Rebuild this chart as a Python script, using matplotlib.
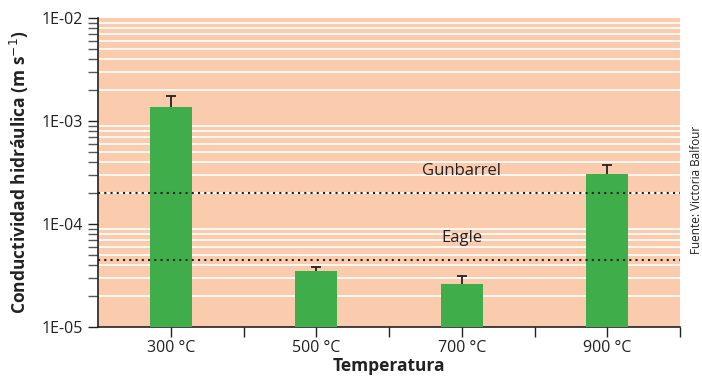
import numpy as np
import matplotlib
matplotlib.use('Agg')
import matplotlib.pyplot as plt
from matplotlib.ticker import LogLocator, FixedLocator, FuncFormatter

temps = ['300 °C', '500 °C', '700 °C', '900 °C']
conductivity = [1.37e-3, 3.5e-5, 2.62e-5, 3.05e-4]
upper_err = [1.75e-3, 3.85e-5, 3.12e-5, 3.72e-4]
ref_names = ['Gunbarrel', 'Eagle']
ref_values = [2.0e-4, 4.45e-5]

plt.rcParams['font.family'] = ['Open Sans', 'DejaVu Sans']

BG = '#fbcbae'
GREEN = '#3fae4a'


def main():
    fig = plt.figure(figsize=(7.02, 3.79), dpi=100)
    ax = fig.add_axes([98 / 702, 52 / 379, 582 / 702, 309 / 379])
    ax.set_facecolor(BG)

    x = np.arange(len(temps))
    ax.bar(x, conductivity, width=0.29, color=GREEN, zorder=3)
    # upper-only error bars
    ax.vlines(x, conductivity, upper_err, color='#222222', linewidth=1.3, zorder=4)
    ax.plot(x, upper_err, linestyle='none', marker='_', markersize=7,
            markeredgewidth=1.3, color='#222222', zorder=4)

    ax.set_yscale('log')
    ax.set_ylim(1e-5, 1e-2)
    ax.set_xlim(-0.5, len(temps) - 0.5)

    # white gridlines at minor log positions
    ax.yaxis.set_minor_locator(LogLocator(base=10, subs=np.arange(2, 10)))
    ax.grid(True, which='minor', axis='y', color='white', linewidth=1.2, zorder=1)
    ax.grid(False, which='major')
    ax.set_axisbelow(True)

    ax.yaxis.set_major_locator(FixedLocator([1e-5, 1e-4, 1e-3, 1e-2]))
    ax.yaxis.set_major_formatter(FuncFormatter(lambda v, p: '1E-%02d' % round(-np.log10(v))))
    ax.yaxis.set_minor_formatter(FuncFormatter(lambda v, p: ''))

    ax.set_xticks(x)
    ax.set_xticklabels(temps)
    ax.xaxis.set_minor_locator(FixedLocator(np.arange(len(temps)) + 0.5))

    for name, val, ly in zip(ref_names, ref_values, [3.3e-4, 7.3e-5]):
        ax.axhline(val, color='#222222', linestyle=(0, (1, 2)), linewidth=1.5, zorder=5)
        ax.text(2.0, ly, name, ha='center', va='center', fontsize=12, color='#222222', zorder=6)

    for s in ['top', 'right']:
        ax.spines[s].set_visible(False)
    for s in ['left', 'bottom']:
        ax.spines[s].set_color('#222222')
        ax.spines[s].set_linewidth(1.2)

    ax.tick_params(axis='both', which='major', direction='out', length=7, width=1,
                   labelsize=11.5, color='#222222', labelcolor='#222222')
    ax.tick_params(axis='x', which='major', pad=2)
    ax.tick_params(axis='y', which='minor', direction='out', length=7, width=1, color='#555555')
    ax.tick_params(axis='x', which='minor', direction='out', length=7, width=1, color='#222222')

    ax.set_ylabel('Conductividad hidráulica (m s$^{-1}$)', fontsize=12.5, fontweight='bold',
                  color='#222222', labelpad=8)
    ax.set_xlabel('Temperatura', fontsize=12.5, fontweight='bold', color='#222222', labelpad=1)

    fig.text(697 / 702, 0.5, 'Fuente: Victoria Balfour', rotation=90, ha='center', va='center',
             fontsize=8.5, color='#222222')

    fig.savefig('out.png', dpi=100)


if __name__ == "__main__":
    main()
